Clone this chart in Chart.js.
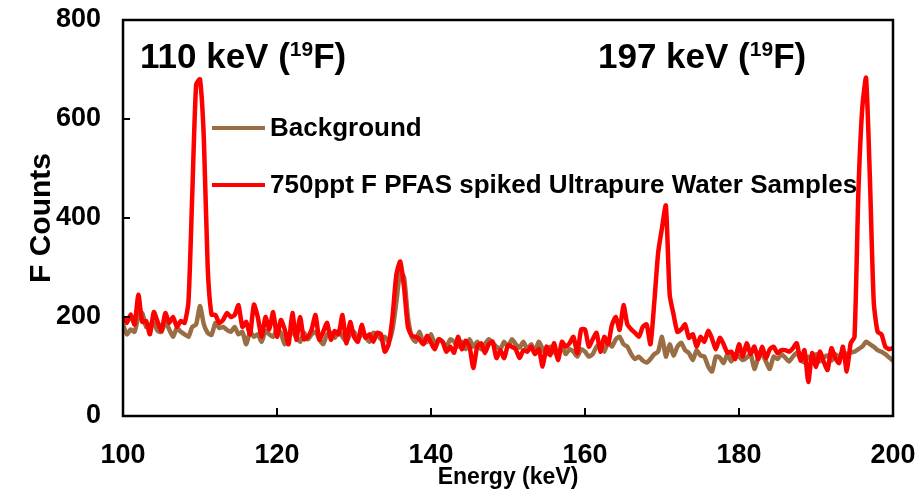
<!DOCTYPE html>
<html><head><meta charset="utf-8">
<script src="https://cdn.jsdelivr.net/npm/chart.js@4"></script>
<style>html,body{margin:0;padding:0;background:#fff}#wrap{width:923px;height:494px}</style>
</head><body><div id="wrap"><canvas id="c" width="923" height="494"></canvas></div>
<script>
const energy = [
100,100.5,101,101.5,102,102.5,103,103.5,104,104.5,105,105.5,106,106.5,107,107.5,108,108.5,109,109.5,
110,110.5,111,111.5,112,112.5,113,113.5,114,114.5,115,115.5,116,116.5,117,117.5,118,118.5,119,119.5,
120,120.5,121,121.5,122,122.5,123,123.5,124,124.5,125,125.5,126,126.5,127,127.5,128,128.5,129,129.5,
130,130.5,131,131.5,132,132.5,133,133.5,134,134.5,135,135.5,136,136.5,137,137.5,138,138.5,139,139.5,
140,140.5,141,141.5,142,142.5,143,143.5,144,144.5,145,145.5,146,146.5,147,147.5,148,148.5,149,149.5,
150,150.5,151,151.5,152,152.5,153,153.5,154,154.5,155,155.5,156,156.5,157,157.5,158,158.5,159,159.5,
160,160.5,161,161.5,162,162.5,163,163.5,164,164.5,165,165.5,166,166.5,167,167.5,168,168.5,169,169.5,
170,170.5,171,171.5,172,172.5,173,173.5,174,174.5,175,175.5,176,176.5,177,177.5,178,178.5,179,179.5,
180,180.5,181,181.5,182,182.5,183,183.5,184,184.5,185,185.5,186,186.5,187,187.5,188,188.5,189,189.5,
190,190.5,191,191.5,192,192.5,193,193.5,194,194.5,195,195.5,196,196.5,197,197.5,198,198.5,199,199.5,
200];

const backgroundCounts = [
185,165,175,170,200,208,180,185,188,172,170,190,175,160,178,170,165,160,180,185,
222,185,168,164,188,178,180,174,170,180,165,170,145,170,160,165,150,172,165,160,
175,168,145,160,170,160,150,168,155,165,170,155,145,165,168,158,172,160,150,165,
170,155,165,160,150,168,165,155,160,150,175,230,290,280,200,160,150,170,148,150,
165,145,155,150,140,155,150,140,150,135,155,140,150,135,145,155,148,140,135,150,
140,155,145,138,150,135,145,130,150,135,125,140,130,120,140,125,135,130,120,135,
130,120,125,140,145,130,150,140,155,160,145,140,125,115,120,112,108,115,125,130,
160,120,145,122,140,148,133,127,113,133,122,120,100,90,120,118,107,125,110,125,
120,113,118,125,95,118,125,110,95,120,115,125,118,110,120,128,115,108,120,115,
125,110,118,122,112,125,120,130,125,128,130,135,140,150,145,140,133,130,125,118,
112];

const spikedCounts = [
200,188,205,185,245,190,192,165,210,190,172,208,188,200,180,192,188,230,450,670,
680,560,300,205,204,188,194,208,200,204,224,180,190,165,225,200,160,200,175,210,
160,194,175,145,208,154,200,155,160,175,204,154,170,188,154,172,165,204,147,190,
160,150,184,158,165,150,168,165,130,145,200,285,312,260,180,162,160,155,145,162,
148,135,155,150,130,140,128,160,135,152,140,97,140,147,127,145,150,117,133,117,
143,140,135,117,133,130,140,125,135,100,140,123,147,113,150,140,147,160,127,175,
175,140,155,168,130,160,145,184,200,174,224,185,175,168,160,180,185,145,230,330,
380,425,245,205,170,175,185,158,165,140,160,150,172,156,135,158,145,128,130,115,
145,120,147,125,140,115,140,117,135,140,127,133,133,130,137,147,112,133,69,127,
99,130,110,93,137,117,107,140,90,147,160,450,620,683,480,230,170,165,140,135,
137];

const xTickValues = [100,120,140,160,180,200];
const yTickValues = [0,200,400,600,800];
const seriesLabels = ['Background','750ppt F PFAS spiked Ultrapure Water Samples'];
const seriesColors = ['#9A6E45','#FF0000'];
const peakLabels = [
  {pre:'110 keV (', sup:'19', post:'F)'},
  {pre:'197 keV (', sup:'19', post:'F)'}
];
const axisTitles = {x:'Energy (keV)', y:'F Counts'};

const FONT = '"Liberation Sans", Arial, sans-serif';

const decor = {
  id:'decor',
  afterDraw(chart){
    const {ctx, chartArea:a, scales:{x,y}} = chart;
    ctx.save();
    ctx.strokeStyle='#000';
    ctx.lineWidth=2.5;
    ctx.strokeRect(a.left,a.top,a.right-a.left,a.bottom-a.top);
    ctx.lineWidth=2;
    xTickValues.forEach(v=>{
      if(v===xTickValues[0]||v===xTickValues[xTickValues.length-1]) return;
      const px=x.getPixelForValue(v);
      ctx.beginPath();ctx.moveTo(px,a.bottom);ctx.lineTo(px,a.bottom-8);ctx.stroke();
    });
    yTickValues.forEach(v=>{
      if(v===yTickValues[0]||v===yTickValues[yTickValues.length-1]) return;
      const py=y.getPixelForValue(v);
      ctx.beginPath();ctx.moveTo(a.left,py);ctx.lineTo(a.left+7,py);ctx.stroke();
    });
    // legend
    const legendY=[128,185];
    ctx.font='bold 26px '+FONT;
    ctx.textBaseline='middle';
    ctx.textAlign='left';
    seriesLabels.forEach((lab,i)=>{
      ctx.strokeStyle=seriesColors[i];
      ctx.lineWidth=4;
      ctx.beginPath();ctx.moveTo(212,legendY[i]);ctx.lineTo(265,legendY[i]);ctx.stroke();
      ctx.fillStyle='#000';
      ctx.fillText(lab,270,legendY[i]+1);
    });
    // peak labels
    const starts=[140,598];
    ctx.textBaseline='alphabetic';
    peakLabels.forEach((p,i)=>{
      let cx=starts[i];
      ctx.font='bold 35px '+FONT;
      ctx.fillText(p.pre,cx,68); cx+=ctx.measureText(p.pre).width;
      ctx.font='bold 21px '+FONT;
      ctx.fillText(p.sup,cx,56); cx+=ctx.measureText(p.sup).width;
      ctx.font='bold 35px '+FONT;
      ctx.fillText(p.post,cx,68);
    });
    ctx.restore();
  }
};

const toPts = arr => arr.map((v,i)=>({x:energy[i], y:v}));

new Chart(document.getElementById('c'),{
  type:'line',
  data:{datasets:[
    {label:seriesLabels[0], data:toPts(backgroundCounts), borderColor:seriesColors[0], borderWidth:4.5, pointRadius:0, tension:0.2, order:2, fill:false},
    {label:seriesLabels[1], data:toPts(spikedCounts), borderColor:seriesColors[1], borderWidth:4.5, pointRadius:0, tension:0.2, order:1, fill:false}
  ]},
  options:{
    responsive:false, animation:false, devicePixelRatio:1,
    layout:{padding:{left:0,right:30,top:20,bottom:0}},
    plugins:{legend:{display:false},tooltip:{enabled:false}},
    scales:{
      x:{type:'linear',min:100,max:200,
        afterBuildTicks(s){s.ticks=xTickValues.map(v=>({value:v}));},
        afterFit(s){s.height=78;s.paddingLeft=0;s.paddingRight=0;},
        grid:{display:false,drawTicks:false},border:{display:false},
        ticks:{color:'#000',font:{family:FONT,size:27,weight:'bold'},padding:23,maxRotation:0},
        title:{display:true,text:axisTitles.x,color:'#000',font:{family:FONT,size:23,weight:'bold'},padding:{top:0,bottom:3}}
      },
      y:{min:0,max:800,
        afterBuildTicks(s){s.ticks=yTickValues.map(v=>({value:v}));},
        afterFit(s){s.width=123;s.paddingTop=0;s.paddingBottom=0;},
        grid:{display:false,drawTicks:false},border:{display:false},
        ticks:{color:'#000',font:{family:FONT,size:27,weight:'bold'},padding:22},
        title:{display:true,text:axisTitles.y,color:'#000',font:{family:FONT,size:30,weight:'bold'},padding:{top:24,bottom:0}}
      }
    }
  },
  plugins:[decor]
});
</script></body></html>
